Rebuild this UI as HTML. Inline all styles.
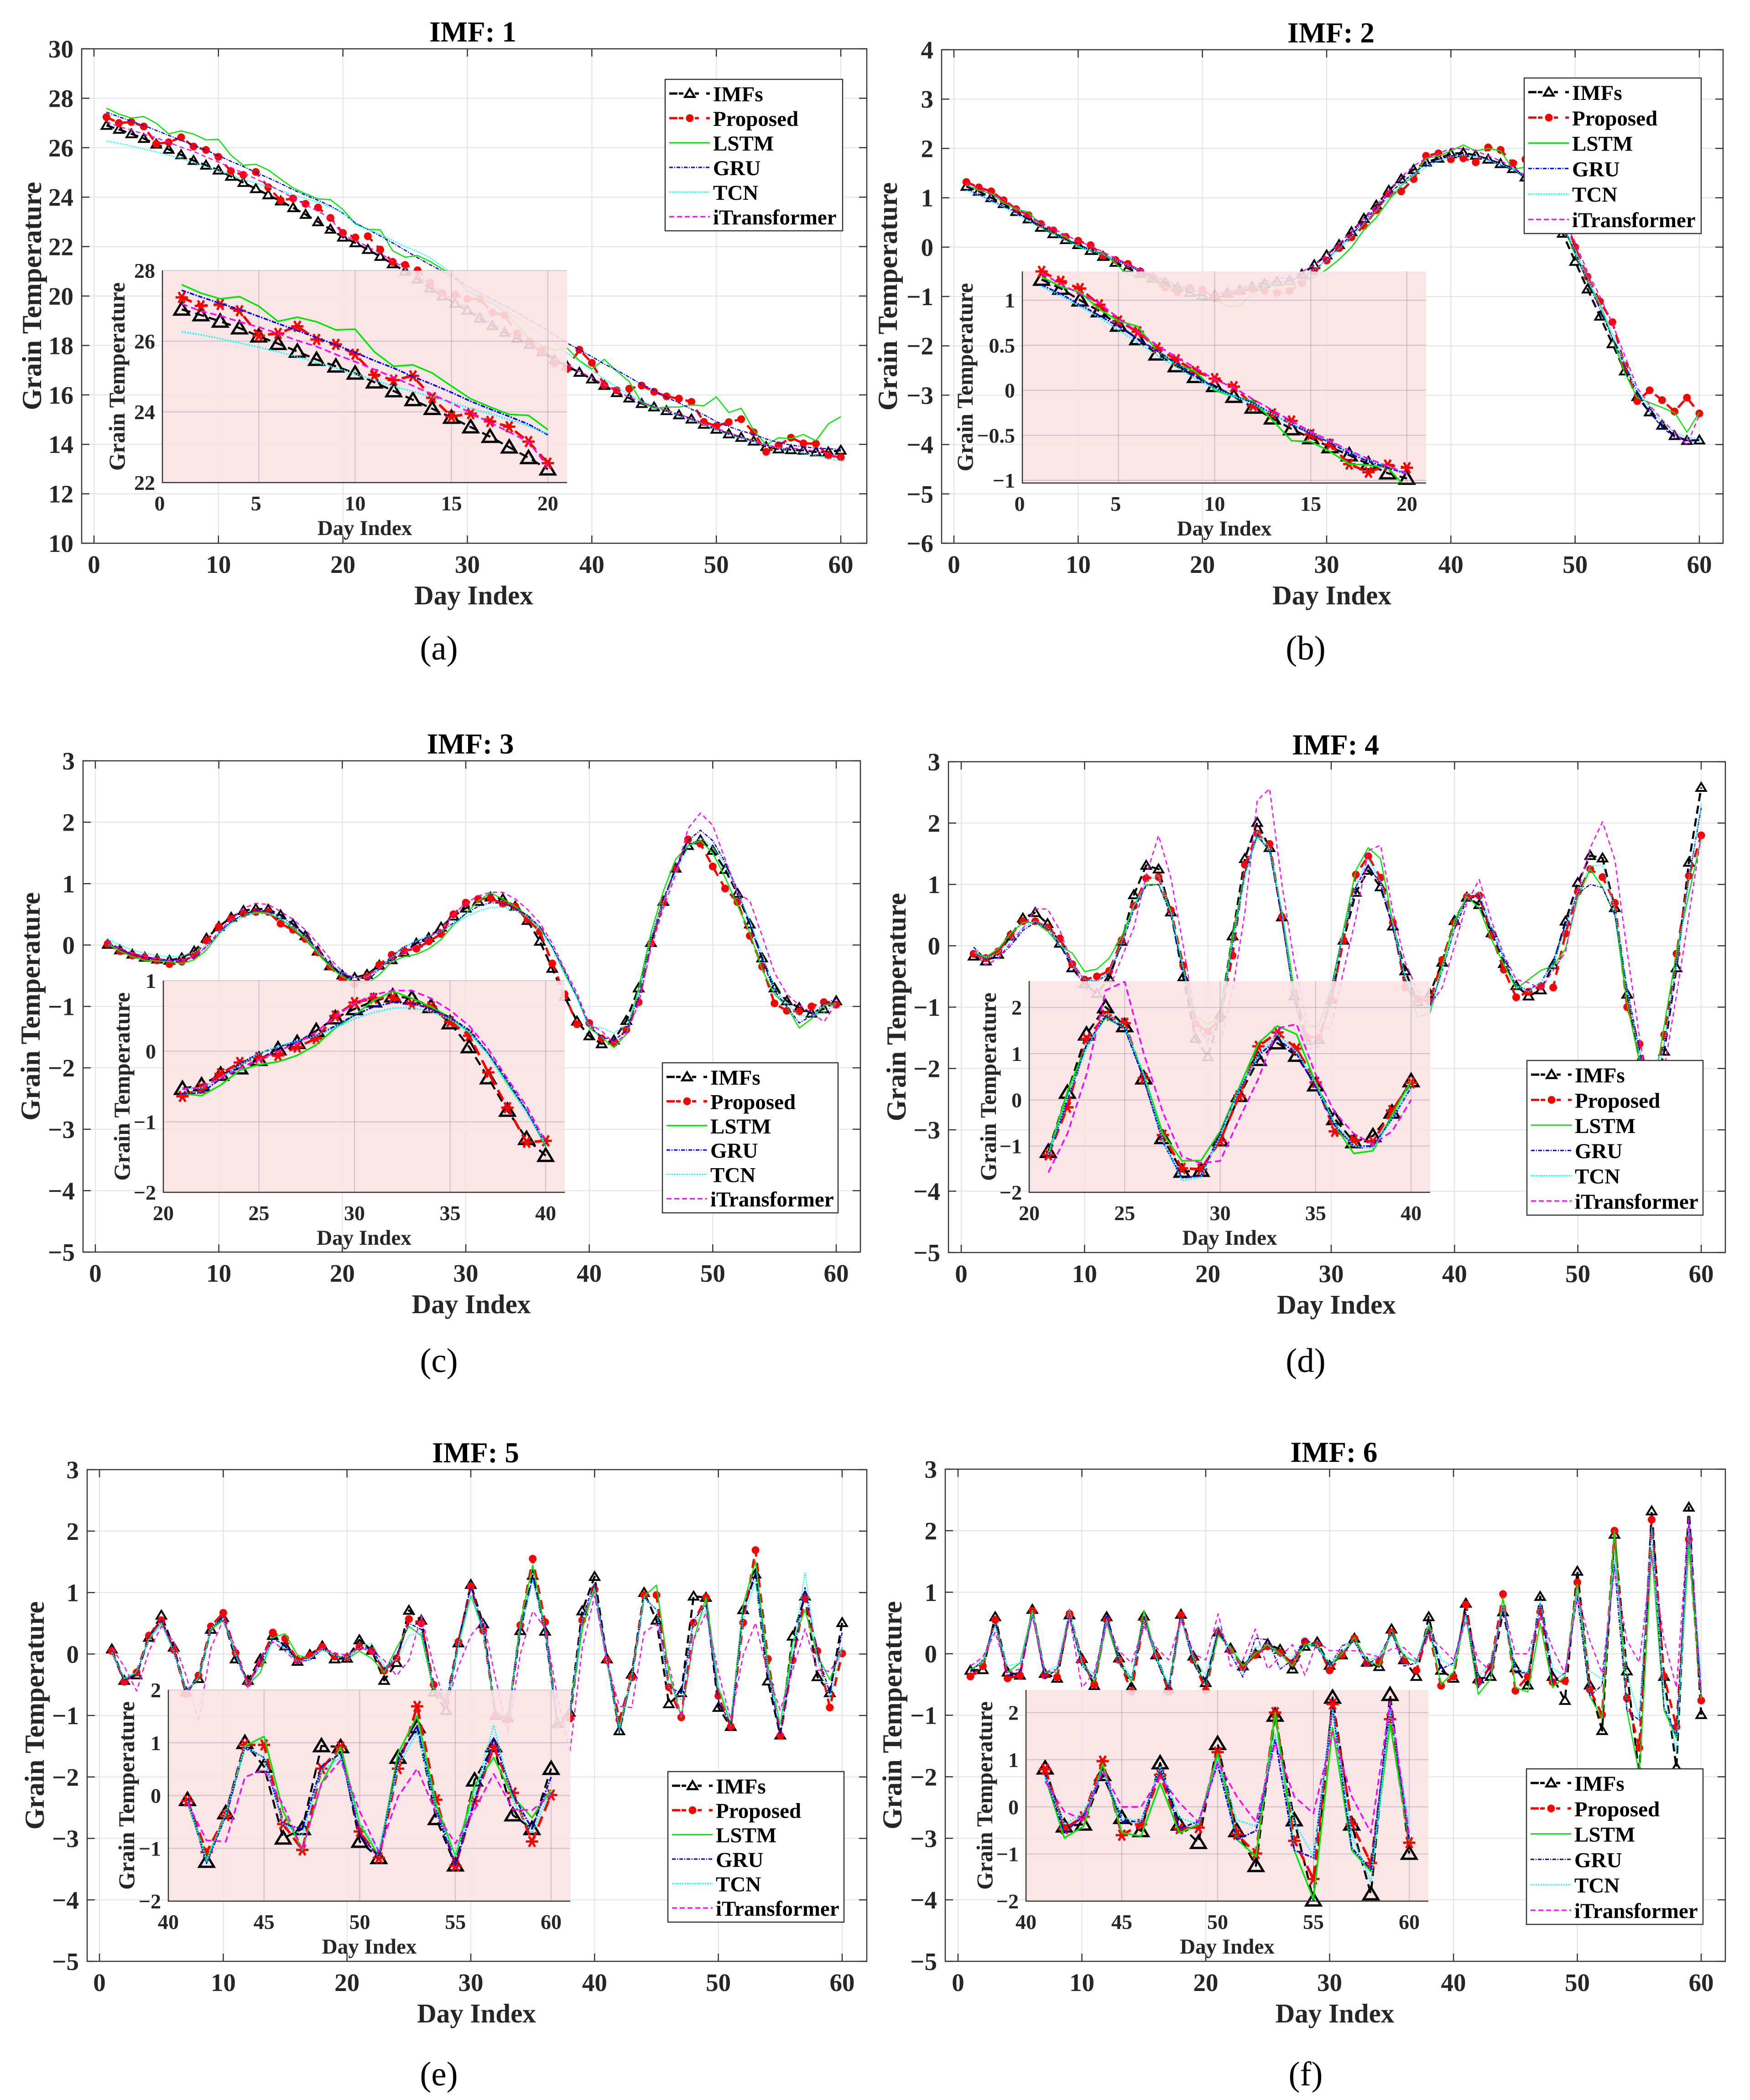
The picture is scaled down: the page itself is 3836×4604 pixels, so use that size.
<!DOCTYPE html>
<html lang="en">
<head>
<meta charset="utf-8">
<title>IMF forecast comparison</title>
<style>
html,body{margin:0;padding:0;background:#fff;}
svg{display:block;}
text{font-family:"Liberation Serif",serif;}
</style>
</head>
<body>
<svg id="figure" xmlns="http://www.w3.org/2000/svg" width="3836" height="4604" viewBox="0 0 3836 4604"></svg>
<script>
const days=[1,2,3,4,5,6,7,8,9,10,11,12,13,14,15,16,17,18,19,20,21,22,23,24,25,26,27,28,29,30,31,32,33,34,35,36,37,38,39,40,41,42,43,44,45,46,47,48,49,50,51,52,53,54,55,56,57,58,59,60];
const mainXTicks=[0,10,20,30,40,50,60];

const imf1Imfs=[26.90,26.74,26.56,26.37,26.14,25.93,25.71,25.48,25.29,25.09,24.84,24.59,24.34,24.09,23.84,23.57,23.30,23.00,22.70,22.38,22.15,21.88,21.6,21.3,21.0,20.68,20.32,20.0,19.7,19.42,19.1,18.8,18.53,18.28,18.04,17.75,17.42,17.17,16.91,16.64,16.38,16.09,15.87,15.65,15.51,15.36,15.19,15.02,14.81,14.61,14.42,14.28,14.13,13.91,13.81,13.78,13.76,13.69,13.69,13.76];
const imf1Proposed=[27.24,27.00,27.04,26.86,26.16,26.22,26.42,26.05,25.91,25.63,25.05,24.90,25.02,24.40,23.87,23.95,23.73,23.58,23.16,22.55,22.37,22.42,21.88,21.38,21.26,21.04,20.55,20.12,20.05,19.88,19.88,19.33,19.22,18.5,18.16,17.82,17.27,17.05,17.83,17.3,16.4,16.19,16.25,16.38,16.13,15.94,15.85,15.72,14.91,14.74,14.9,15.02,14.49,13.7,13.96,14.27,14.04,14.03,13.55,13.48];
const imf1Lstm=[27.6,27.36,27.2,27.26,26.99,26.56,26.68,26.55,26.32,26.34,25.7,25.29,25.33,25.1,24.73,24.37,24.14,23.93,23.9,23.5,22.93,22.7,22.68,21.83,21.57,21.64,21.4,21.09,20.8,20.2,19.95,19.7,19.35,18.84,18.24,17.99,17.82,17.9,17.39,17.05,17.44,16.96,16.54,15.68,15.46,15.51,15.51,15.6,15.56,15.92,15.29,15.46,14.57,13.98,14.27,14.23,14.4,14.15,14.83,15.12];
const imf1Gru=[27.44,27.25,27.07,26.9,26.7,26.5,26.3,26.1,25.9,25.68,25.45,25.24,25.0,24.78,24.55,24.3,24.08,23.87,23.65,23.35,22.95,22.7,22.43,22.15,21.85,21.55,21.27,21.0,20.7,20.4,20.12,19.87,19.6,19.33,19.03,18.75,18.43,18.1,17.83,17.55,17.25,17.0,16.72,16.42,16.2,15.9,15.68,15.42,15.2,14.92,14.72,14.55,14.4,14.22,14.07,13.97,13.9,13.85,13.82,13.8];
const imf1Tcn=[26.27,26.18,26.07,25.95,25.83,25.7,25.56,25.4,25.24,25.08,24.9,24.72,24.58,24.42,24.27,24.1,23.95,23.78,23.6,23.38,22.9,22.7,22.5,22.25,22.0,21.8,21.55,21.2,20.8,20.4,20.1,19.8,19.45,19.1,18.75,18.45,18.1,17.7,17.35,17.0,16.65,16.3,16.02,15.75,15.55,15.35,15.15,15.0,14.8,14.6,14.4,14.25,14.1,13.95,13.85,13.75,13.65,13.55,13.42,13.35];
const imf1Itrans=[27.06,26.85,26.72,26.55,26.4,26.22,26.02,25.85,25.63,25.42,25.2,24.98,24.74,24.5,24.25,23.97,23.7,23.43,23.15,22.45,22.25,22.0,21.72,21.42,21.12,20.8,20.45,20.12,19.82,19.52,19.2,18.88,18.6,18.32,18.08,17.8,17.5,17.22,16.95,16.7,16.42,16.15,15.92,15.7,15.52,15.38,15.22,15.05,14.85,14.65,14.48,14.3,14.15,13.98,13.88,13.85,13.8,13.72,13.62,13.45];

const imf2Imfs=[1.23,1.13,1.0,.88,.72,.57,.40,.27,.15,.05,-.07,-.19,-.31,-.43,-.53,-.63,-.72,-.82,-.92,-.98,-.97,-.93,-.87,-.8,-.74,-.7,-.68,-.55,-.36,-.16,.05,.31,.58,.85,1.15,1.38,1.57,1.72,1.8,1.89,1.91,1.86,1.78,1.69,1.59,1.42,1.2,.91,.28,-.29,-.85,-1.4,-1.96,-2.51,-3.03,-3.34,-3.61,-3.82,-3.92,-3.91];
const imf2Proposed=[1.32,1.21,1.13,.95,.77,.65,.47,.34,.21,.13,.04,-.17,-.26,-.34,-.49,-.6,-.82,-.91,-.83,-.86,-1.04,-.96,-.9,-.84,-.88,-.93,-.89,-.73,-.5,-.27,-.02,.2,.43,.75,1.08,1.13,1.38,1.85,1.9,1.78,1.8,1.72,2.02,1.97,1.7,1.78,1.5,1.2,.7,0,-.6,-1.1,-1.52,-2.4,-3.12,-2.9,-3.1,-3.33,-3.05,-3.37];
const imf2Lstm=[1.26,1.15,1.09,.90,.77,.71,.44,.29,.21,0,-.07,-.12,-.33,-.56,-.57,-.68,-.82,-.83,-.86,-1.09,-1.05,-1.2,-1.19,-.95,-.8,-.75,-.75,-.68,-.62,-.45,-.25,0,.35,.6,.95,1.25,1.45,1.8,1.85,1.95,2.07,1.95,2.0,1.95,1.58,1.62,1.35,1.0,.45,-.15,-.7,-1.15,-1.85,-2.55,-3.05,-3.15,-3.25,-3.35,-3.75,-3.35];
const imf2Gru=[1.17,1.07,.95,.83,.71,.57,.44,.3,.16,.03,-.06,-.14,-.26,-.38,-.48,-.58,-.7,-.79,-.86,-.93,-.97,-.92,-.87,-.82,-.76,-.72,-.68,-.6,-.47,-.25,0,.25,.52,.8,1.08,1.3,1.5,1.68,1.78,1.85,1.88,1.85,1.77,1.66,1.57,1.4,1.2,.85,.45,-.1,-.7,-1.25,-1.85,-2.4,-2.95,-3.35,-3.65,-3.85,-3.92,-3.9];
const imf2Tcn=[1.15,1.05,.93,.81,.67,.53,.39,.26,.13,.02,-.07,-.15,-.26,-.37,-.47,-.57,-.68,-.77,-.84,-.93,-.96,-.92,-.87,-.8,-.74,-.7,-.66,-.58,-.46,-.27,-.03,.22,.48,.74,1.0,1.25,1.45,1.62,1.75,1.83,1.86,1.84,1.76,1.68,1.58,1.42,1.22,.9,.45,-.05,-.6,-1.15,-1.75,-2.35,-2.9,-3.25,-3.55,-3.75,-3.85,-3.88];
const imf2Itrans=[1.3,1.18,1.07,.97,.8,.65,.5,.37,.25,.12,.03,-.1,-.22,-.34,-.46,-.56,-.67,-.76,-.84,-.92,-.96,-.9,-.84,-.76,-.7,-.65,-.6,-.5,-.36,-.16,.07,.32,.58,.85,1.12,1.42,1.65,1.8,1.9,2.0,2.0,1.95,1.85,1.75,1.62,1.45,1.25,1.0,.6,.1,-.5,-1.0,-1.55,-2.2,-2.85,-3.2,-3.5,-3.75,-4.0,-3.4];

const imf3Imfs=[.01,-.08,-.15,-.2,-.23,-.25,-.21,-.1,.11,.3,.45,.56,.59,.58,.49,.34,.15,-.1,-.34,-.49,-.53,-.48,-.33,-.24,-.12,.03,.12,.29,.47,.6,.71,.78,.75,.63,.4,.06,-.38,-.84,-1.24,-1.48,-1.61,-1.55,-1.23,-.7,.04,.71,1.25,1.62,1.71,1.54,1.23,.84,.34,-.21,-.7,-.91,-1.02,-1.11,-1.04,-.91];
const imf3Proposed=[.02,-.1,-.17,-.2,-.25,-.31,-.27,-.17,.07,.3,.43,.51,.54,.54,.35,.25,.1,-.12,-.35,-.55,-.64,-.52,-.32,-.16,-.09,-.06,.06,.18,.5,.69,.75,.76,.67,.63,.42,.22,-.3,-.8,-1.29,-1.27,-1.52,-1.6,-1.38,-.93,.03,.7,1.25,1.72,1.65,1.28,.92,.7,.15,-.35,-.95,-1.07,-1.08,-1.0,-.93,-.97];
const imf3Lstm=[.02,-.1,-.19,-.25,-.26,-.27,-.3,-.24,-.08,.18,.38,.5,.53,.52,.43,.27,.1,-.13,-.35,-.52,-.6,-.63,-.48,-.27,-.19,-.15,-.06,.09,.33,.51,.72,.85,.75,.63,.48,.27,-.03,-.45,-.84,-1.35,-1.5,-1.67,-1.45,-.7,.2,.88,1.4,1.62,1.7,1.5,1.1,.65,.2,-.4,-.8,-1.0,-1.35,-1.2,-.98,-.95];
const imf3Gru=[.04,-.07,-.15,-.2,-.23,-.25,-.25,-.2,-.03,.2,.38,.5,.57,.55,.47,.33,.17,-.07,-.3,-.47,-.6,-.59,-.39,-.18,-.03,.06,.14,.22,.36,.51,.63,.69,.68,.6,.48,.3,-.03,-.42,-.84,-1.32,-1.5,-1.55,-1.4,-.85,.1,.75,1.25,1.7,1.87,1.7,1.35,.9,.35,-.25,-.75,-1.0,-1.27,-1.15,-.95,-.88];
const imf3Tcn=[.1,0,-.08,-.13,-.17,-.19,-.18,-.12,0,.2,.35,.46,.52,.51,.43,.3,.13,-.1,-.3,-.45,-.53,-.52,-.38,-.2,-.03,.07,.15,.22,.33,.46,.55,.61,.62,.56,.45,.27,-.06,-.48,-.87,-1.32,-1.35,-1.43,-1.3,-.8,.1,.7,1.2,1.6,1.75,1.6,1.3,.85,.4,-.15,-.7,-.95,-1.15,-1.15,-1.1,-.95];
const imf3Itrans=[.05,-.05,-.13,-.18,-.22,-.25,-.25,-.18,-.02,.22,.42,.6,.68,.66,.55,.42,.25,.03,-.22,-.43,-.54,-.51,-.38,-.24,-.12,0,.12,.27,.5,.68,.8,.86,.86,.75,.58,.36,.03,-.39,-.78,-1.29,-1.4,-1.6,-1.45,-.95,-.05,.6,1.15,1.9,2.15,1.95,1.4,.85,.72,.15,-.45,-.8,-.98,-1.1,-1.25,-.95];

const imf4Imfs=[-.17,-.25,-.14,.16,.45,.54,.36,.04,-.36,-.62,-.78,-.53,.07,.83,1.31,1.25,.55,-.51,-1.51,-1.81,-1.12,.16,1.42,2.01,1.6,.47,-.82,-1.55,-1.53,-.87,.09,.87,1.23,.96,.32,-.41,-.91,-.78,-.27,.41,.79,.67,.21,-.29,-.65,-.82,-.72,-.31,.4,1.03,1.47,1.43,.62,-.79,-1.89,-2.6,-1.72,-.36,1.36,2.58];
const imf4Proposed=[-.13,-.2,-.09,.18,.4,.4,.3,.12,-.3,-.55,-.5,-.41,.09,.65,1.1,1.12,.58,-.32,-1.27,-1.4,-1.19,-.16,1.32,1.83,1.66,.47,-.76,-1.48,-1.5,-.88,.09,1.16,1.46,1.11,.38,-.68,-.87,-.91,-.23,.37,.8,.82,.17,-.39,-.84,-.75,-.66,-.68,.2,.88,1.25,1.12,.7,-1.0,-1.6,-2.4,-1.45,-.13,1.14,1.8];
const imf4Lstm=[-.1,-.18,-.05,.2,.38,.38,.24,0,-.12,-.42,-.38,-.2,.15,.65,1.0,1.0,.55,-.4,-1.15,-1.28,-1.17,.18,1.19,1.78,1.55,.55,-.73,-1.32,-1.31,-.68,.27,1.23,1.6,1.42,.37,-.55,-1.16,-1.1,-.32,.41,.8,.62,.1,-.3,-.7,-.55,-.4,-.33,-.05,.8,1.25,.95,.5,-.95,-1.9,-2.5,-1.3,-.1,.85,1.75];
const imf4Gru=[-.02,-.22,-.2,0,.25,.38,.3,0,-.3,-.55,-.58,-.45,0,.6,.98,1.0,.5,-.45,-1.3,-1.55,-1.21,0,1.19,1.81,1.55,.46,-.91,-1.69,-1.64,-.73,.23,.96,1.32,1,.27,-.55,-1,-1,-.41,.27,.75,.82,.25,-.2,-.65,-.72,-.6,-.25,.35,.85,1.0,.95,.5,-.7,-1.7,-2.6,-1.6,-.3,1.1,2.25];
const imf4Tcn=[-.1,-.2,-.12,.1,.3,.4,.3,.05,-.3,-.55,-.58,-.42,.05,.65,1.05,1.15,.55,-.35,-1.3,-1.58,-1.19,.05,1.1,1.87,1.6,.55,-.87,-1.75,-1.67,-.78,.23,1,1.42,1.05,.37,-.5,-1,-1.05,-.41,.32,.85,.87,.3,-.2,-.65,-.75,-.6,-.3,.3,.9,1.3,1.32,.6,-.75,-1.8,-2.6,-1.6,-.3,1.1,2.3];
const imf4Itrans=[-.1,-.32,-.2,.05,.28,.6,.6,.25,-.3,-.68,-.83,-.7,-.2,.3,1.15,1.8,1.1,0,-1.2,-1.6,-1.57,-.73,.55,2.37,2.56,1.0,-.27,-1.23,-1.37,-1.32,-.41,.46,1.55,1.64,.55,-.27,-.73,-.96,-.68,0,.7,1.08,.4,-.15,-.55,-.6,-.7,-.4,-.1,.9,1.6,2.02,1.4,-.1,-1.5,-2.7,-2.0,-.8,.5,1.8];

const imf5Imfs=[.08,-.43,-.34,.27,.63,.11,-.62,-.4,.4,.59,-.08,-.43,-.08,.3,.13,-.12,-.01,.13,-.08,-.07,.23,.06,-.43,-.14,.71,.55,-.62,-.92,.18,1.13,.49,-1.0,-1.04,.38,1.28,.37,-1.13,-.95,.7,1.26,-.08,-1.25,-.33,1.0,.55,-.81,-.63,.94,.92,-.87,-1.18,.72,1.3,-.44,-1.32,.29,.94,-.37,-.63,.51];
const imf5Proposed=[.05,-.45,-.3,.3,.55,.07,-.65,-.35,.45,.67,.02,-.47,-.15,.35,.25,-.1,-.02,.12,-.04,-.05,.12,.05,-.27,-.07,.57,.5,-.5,-.78,.2,1.1,.38,-1.0,-1.07,.47,1.55,.52,-1.15,-1.05,.55,1.05,-.1,-1.07,-.38,.96,.96,-.54,-1.03,.51,.92,-.68,-1.18,.51,1.69,-.08,-1.33,-.1,.92,.05,-.87,.01];
const imf5Lstm=[.03,-.4,-.3,.25,.5,.05,-.6,-.4,.4,.55,0,-.5,-.3,.27,.33,-.02,-.07,.07,-.02,-.08,.05,-.07,-.3,.1,.45,.3,-.6,-.85,.15,.95,.4,-1.0,-1.02,.5,1.45,.4,-1.2,-.95,.4,1.1,-.14,-1.2,-.38,.94,1.12,-.3,-1.03,.23,.92,-.54,-1.15,.8,1.51,-.18,-1.15,.19,.72,-.02,-.42,.11];
const imf5Gru=[.02,-.42,-.32,.27,.55,.05,-.62,-.38,.42,.6,-.02,-.5,-.15,.25,.15,-.12,-.1,.08,-.02,-.08,.12,.08,-.25,-.02,.5,.4,-.55,-.8,.2,1.1,.4,-1.0,-1.0,.42,1.25,.4,-1.15,-.95,.6,1.15,-.06,-1.28,-.38,.92,.72,-.54,-.63,.55,.8,-.75,-1.15,.67,1.33,-.3,-1.32,-.1,1.08,.02,-.63,.35];
const imf5Tcn=[.02,-.4,-.3,.25,.5,.05,-.6,-.38,.42,.58,-.02,-.52,-.2,.2,.1,-.12,-.08,.08,-.02,-.05,.1,.18,-.2,-.1,.3,.35,-.55,-.85,.15,.95,.35,-.95,-1.0,.4,1.2,.4,-1.1,-.9,.55,1.05,-.1,-1.24,-.34,.92,.72,-.54,-.75,.47,.72,-.54,-1.03,.55,1.2,-.3,-1.15,.02,1.33,-.1,-.71,.11];
const imf5Itrans=[.1,-.2,-.6,.05,.45,.2,-.35,-1.1,.1,.55,.1,-.55,-.05,.2,.05,-.15,-.05,.1,.02,-.02,.1,.05,-.1,-.35,-.1,.62,-.2,-.85,-.2,.3,.55,-.4,-1.3,0,.7,.42,-.7,-1.6,.1,.95,-.14,-.85,-.87,.35,.49,-.18,-1.03,.23,.67,-.3,-1.07,-.02,.51,-.34,-.91,-.26,.41,-.26,-.28,.02];

const imf6Imfs=[-.27,-.26,.6,-.3,-.35,.72,-.32,-.4,.63,-.08,-.52,.6,-.07,-.54,.61,-.02,-.57,.64,-.04,-.47,.35,.09,-.2,0,.16,.07,-.25,.12,.19,-.19,-.02,.25,-.14,-.21,.4,-.1,-.37,.6,-.27,-.4,.82,-.41,-.37,.68,-.23,-.51,.93,-.37,-.76,1.34,-.51,-1.25,1.94,-.28,-1.98,2.32,-.37,-1.85,2.38,-.99];
const imf6Proposed=[-.37,-.2,.55,-.4,-.35,.7,-.35,-.38,.65,-.1,-.5,.55,-.1,-.62,.55,-.03,-.62,.63,-.1,-.6,.35,.05,-.22,-.02,.12,.02,-.15,.2,.15,-.27,-.02,.25,-.15,-.13,.35,-.1,-.27,.37,-.52,-.37,.8,-.46,-.21,.97,-.6,-.37,.68,-.46,-.44,1.16,-.58,-.99,2,-.72,-1.53,2.18,-.37,-1.19,1.86,-.76];
const imf6Lstm=[-.25,-.15,.5,-.3,-.15,.7,-.3,-.3,.6,-.15,-.45,.5,-.15,-.45,.7,-.05,-.55,.6,-.1,-.5,.3,.1,-.2,0,.15,0,-.2,.15,.15,-.2,0,.27,-.1,-.2,.38,-.05,-.13,.45,-.5,-.3,.63,-.66,-.41,.91,-.55,-.62,.5,-.55,-.37,1.13,-.69,-1.05,2,-.92,-1.96,1.68,-.92,-1.37,1.77,-.73];
const imf6Gru=[-.3,-.1,.5,-.35,-.3,.65,-.4,-.25,.6,-.2,-.4,.65,-.15,-.4,.6,-.1,-.55,.6,-.15,-.5,.4,0,-.38,.25,.23,-.25,-.1,.25,.1,-.2,.13,.2,-.18,-.05,.35,-.2,-.15,.4,-.25,-.15,.68,-.55,-.19,.77,-.31,-.31,.82,-.46,-.31,.91,-.69,-.51,1.45,-.92,-1.08,2.09,-.87,-1.33,2.14,-.69];
const imf6Tcn=[-.2,-.1,.45,-.2,-.15,.65,-.3,-.2,.72,-.15,-.35,.55,-.05,-.4,.55,-.05,-.5,.55,-.05,-.35,.45,.05,-.3,.1,.15,-.05,-.05,.12,.12,-.15,.05,.2,-.1,-.05,.3,0,-.15,.5,-.1,-.2,.63,-.37,-.14,.77,-.23,-.31,.86,-.23,-.37,1.04,-.28,-.41,1.54,-.32,-1.05,2.05,-.6,-1.6,2.05,-.37];
const imf6Itrans=[-.2,-.05,.35,-.3,-.25,.6,-.3,-.25,.6,-.55,-.3,.5,.05,-.15,.45,.1,-.1,.55,0,-.1,.65,-.2,-.1,.4,-.25,-.05,.15,-.35,.2,.05,.05,.05,0,-.05,.08,.1,-.1,.3,.1,-.1,.54,-.1,-.28,.77,0,0,.63,.09,-.32,.95,.22,-.32,1.36,.22,-.14,1.59,.22,-.55,2.23,-.6];

const seriesNames=['IMFs','Proposed','LSTM','GRU','TCN','iTransformer'];
const seriesKeys=['imfs','proposed','lstm','gru','tcn','itransformer'];
const seriesColors=['#000000','#ff0000','#00e600','#0000ff','#00ffff','#ff00ff'];
const mainWidths=[4.5,5,2.5,2.5,2.5,2.5];
const insetWidths=[4.5,5.5,3.5,3.5,3.5,3.5];
const mainDashes=['18 10','20 14','','8 3 2 3','2.5 2.5','10 7'];
const insetDashes=['20 11','24 13','','10 3 3 3','3 3','14 8'];
const legendDashes=['18 3 10 25 9 16 9','18 3 10 25 9 16 9','','8 3 2 3','3 2.5','11 6'];

const panelDefs=[
 {n:'1',cap:'(a)',capX:962,capY:1446,data:[imf1Imfs,imf1Proposed,imf1Lstm,imf1Gru,imf1Tcn,imf1Itrans],
  box:[179,107,1900,1191],xPx:[206,1843],yLim:[10,30],yTicks:[10,12,14,16,18,20,22,24,26,28,30],ylabX:90,
  inset:{box:[356,593,1243,1058],x:[0,21],y:[22,28],xTicks:[0,5,10,15,20],yTicks:[22,24,26,28],range:[1,20],ylabX:273},
  legend:[1458,174,1847,506]},
 {n:'2',cap:'(b)',capX:2862,capY:1446,data:[imf2Imfs,imf2Proposed,imf2Lstm,imf2Gru,imf2Tcn,imf2Itrans],
  box:[2064,109,3777,1191],xPx:[2091,3725],yLim:[-6,4],yTicks:[-6,-5,-4,-3,-2,-1,0,1,2,3,4],ylabX:1966,
  inset:{box:[2241,595,3126,1059],x:[0,21],y:[-1.03,1.32],xTicks:[0,5,10,15,20],yTicks:[-1,-0.5,0,0.5,1],range:[1,20],ylabX:2132},
  legend:[3341,171,3729,512]},
 {n:'3',cap:'(c)',capX:962,capY:3008,data:[imf3Imfs,imf3Proposed,imf3Lstm,imf3Gru,imf3Tcn,imf3Itrans],
  box:[182,1668,1886,2745],xPx:[209,1833],yLim:[-5,3],yTicks:[-5,-4,-3,-2,-1,0,1,2,3],ylabX:87,
  inset:{box:[358,2150,1238,2614],x:[20,41],y:[-2,1],xTicks:[20,25,30,35,40],yTicks:[-2,-1,0,1],range:[21,40],ylabX:284},
  legend:[1452,2330,1837,2659]},
 {n:'4',cap:'(d)',capX:2862,capY:3008,data:[imf4Imfs,imf4Proposed,imf4Lstm,imf4Gru,imf4Tcn,imf4Itrans],
  box:[2079,1670,3782,2746],xPx:[2107,3729],yLim:[-5,3],yTicks:[-5,-4,-3,-2,-1,0,1,2,3],ylabX:1985,
  inset:{box:[2256,2151,3135,2614],x:[20,41],y:[-2,2.57],xTicks:[20,25,30,35,40],yTicks:[-2,-1,0,1,2],range:[21,40],ylabX:2183},
  legend:[3347,2325,3733,2664]},
 {n:'5',cap:'(e)',capX:962,capY:4572,data:[imf5Imfs,imf5Proposed,imf5Lstm,imf5Gru,imf5Tcn,imf5Itrans],
  box:[191,3222,1900,4300],xPx:[218,1846],yLim:[-5,3],yTicks:[-5,-4,-3,-2,-1,0,1,2,3],ylabX:96,
  inset:{box:[369,3705,1250,4168],x:[40,61],y:[-2,2],xTicks:[40,45,50,55,60],yTicks:[-2,-1,0,1,2],range:[41,60],ylabX:294},
  legend:[1464,3884,1850,4214]},
 {n:'6',cap:'(f)',capX:2862,capY:4572,data:[imf6Imfs,imf6Proposed,imf6Lstm,imf6Gru,imf6Tcn,imf6Itrans],
  box:[2072,3221,3782,4300],xPx:[2100,3729],yLim:[-5,3],yTicks:[-5,-4,-3,-2,-1,0,1,2,3],ylabX:1976,
  inset:{box:[2249,3705,3131,4168],x:[40,61],y:[-2,2.48],xTicks:[40,45,50,55,60],yTicks:[-2,-1,0,1,2],range:[41,60],ylabX:2175},
  legend:[3346,3878,3733,4219]}
];

const NS='http://www.w3.org/2000/svg';
const root=document.getElementById('figure');
function mk(tag,attrs,parent){
  const e=document.createElementNS(NS,tag);
  for(const k in attrs){e.setAttribute(k,attrs[k]);}
  parent.appendChild(e);
  return e;
}
function fmt(v){return (v<0?'\u2212':'')+Math.abs(v);}
function linear(d0,d1,r0,r1){return function(v){return r0+(v-d0)*(r1-r0)/(d1-d0);};}
function txt(parent,x,y,s,size,weight,anchor,fill,extra){
  const a={x:x,y:y,'font-size':size,'font-weight':weight,'text-anchor':anchor,fill:fill};
  if(extra){for(const k in extra){a[k]=extra[k];}}
  const t=mk('text',a,parent);
  t.textContent=s;
  return t;
}
function triPath(x,y,r){return 'M'+x+' '+(y-r*0.95)+'L'+(x+r)+' '+(y+r*0.72)+'L'+(x-r)+' '+(y+r*0.72)+'Z';}
function starPath(x,y,r){
  let d='M'+(x-r)+' '+y+'L'+(x+r)+' '+y;
  const a=r*0.5,b=r*0.866;
  d+='M'+(x-a)+' '+(y-b)+'L'+(x+a)+' '+(y+b);
  d+='M'+(x+a)+' '+(y-b)+'L'+(x-a)+' '+(y+b);
  return d;
}

function drawSeries(parent,values,s,xf,yf,start,end,isInset,clipId){
  const key=seriesKeys[s];
  const g=mk('g',{},parent);
  
  
  const pts=[];
  for(let i=0;i<days.length;i++){
    if(days[i]>=start&&days[i]<=end){pts.push([xf(days[i]),yf(values[i])]);}
  }
  const dash=isInset?insetDashes[s]:mainDashes[s];
  const attrs={d:'M'+pts.map(function(p){return p[0].toFixed(1)+' '+p[1].toFixed(1);}).join('L'),fill:'none',stroke:seriesColors[s],'stroke-width':isInset?insetWidths[s]:mainWidths[s],'clip-path':'url(#'+clipId+')','stroke-linejoin':'round'};
  if(dash){attrs['stroke-dasharray']=dash;}
  const line=mk('path',attrs,g);
  
  
  if(s===0){
    pts.forEach(function(p){
      const m=mk('path',{d:triPath(p[0],p[1],isInset?16:10.5),fill:'none',stroke:'#000','stroke-width':isInset?5:4,'stroke-linejoin':'miter'},g);
      
      
    });
  }
  if(s===1){
    pts.forEach(function(p){
      if(isInset){
        const m=mk('path',{d:starPath(p[0],p[1],13.5),fill:'none',stroke:'#ff0000','stroke-width':5},g);
        
        
      }else{
        const m=mk('circle',{cx:p[0],cy:p[1],r:8.5,fill:'#ff0000'},g);
        
        
      }
    });
  }
}

function drawLegend(parent,b){
  const g=mk('g',{},parent);
  
  
  const r=mk('rect',{x:b[0],y:b[1],width:b[2]-b[0],height:b[3]-b[1],fill:'#fff',stroke:'#333','stroke-width':2.5},g);
  
  
  const step=(b[3]-b[1]-62)/5;
  for(let s=0;s<6;s++){
    const y=b[1]+31+s*step;
    const a={x1:b[0]+9,x2:b[0]+98,y1:y,y2:y,stroke:seriesColors[s],'stroke-width':s<2?5:3};
    if(legendDashes[s]){a['stroke-dasharray']=legendDashes[s];}
    const l=mk('line',a,g);
    
    
    if(s===0){
      const m=mk('path',{d:triPath(b[0]+54,y,10.5),fill:'#fff',stroke:'#000','stroke-width':4.5},g);
      
      
    }
    if(s===1){
      const m=mk('circle',{cx:b[0]+54,cy:y,r:8.5,fill:'#ff0000'},g);
      
      
    }
    const t=txt(g,b[0]+105,y+17,seriesNames[s],47,'bold','start','#000');
    
    
  }
}

panelDefs.forEach(function(p,pi){
  const g=mk('g',{},root);
  
  
  const L=p.box[0],T=p.box[1],R=p.box[2],B=p.box[3];
  const xf=linear(0,60,p.xPx[0],p.xPx[1]);
  const yf=linear(p.yLim[0],p.yLim[1],B,T);
  const clipMain='clip-main-'+pi;
  const defs=mk('defs',{},g);
  const cm=mk('clipPath',{id:clipMain},defs);
  mk('rect',{x:L,y:T,width:R-L,height:B-T},cm);

  const grid=mk('g',{},g);
  
  
  mainXTicks.forEach(function(v){
    const l=mk('line',{x1:xf(v),x2:xf(v),y1:T,y2:B,stroke:'#e2e2e2','stroke-width':2},grid);
    
    
  });
  p.yTicks.forEach(function(v){
    const l=mk('line',{x1:L,x2:R,y1:yf(v),y2:yf(v),stroke:'#e2e2e2','stroke-width':2},grid);
    
    
  });

  const series=mk('g',{},g);
  
  
  p.data.forEach(function(vals,s){drawSeries(series,vals,s,xf,yf,1,60,false,clipMain);});

  const frame=mk('rect',{x:L,y:T,width:R-L,height:B-T,fill:'none',stroke:'#333','stroke-width':2.5},g);
  
  

  const xAxis=mk('g',{},g);
  
  
  mainXTicks.forEach(function(v){
    const d=mk('path',{d:'M'+xf(v)+' '+B+'v-17M'+xf(v)+' '+T+'v17',stroke:'#333','stroke-width':2.5,fill:'none'},xAxis);
    
    
    const t=txt(xAxis,xf(v),B+65,fmt(v),55,'bold','middle','#262626');
    
    
  });
  const yAxis=mk('g',{},g);
  
  
  p.yTicks.forEach(function(v){
    const d=mk('path',{d:'M'+L+' '+yf(v)+'h17M'+R+' '+yf(v)+'h-17',stroke:'#333','stroke-width':2.5,fill:'none'},yAxis);
    
    
    const t=txt(yAxis,L-18,yf(v)+19,fmt(v),55,'bold','end','#262626');
    
    
  });

  const title=txt(g,(L+R)/2-3,T-16,'IMF: '+p.n,63,'bold','middle','#000');
  
  
  const xl=txt(g,(L+R)/2-1,B+134,'Day Index',59,'bold','middle','#262626');
  
  
  const yc=(T+B)/2;
  const yl=txt(g,p.ylabX,yc,'Grain Temperature',60,'bold','middle','#262626',{transform:'rotate(-90 '+p.ylabX+' '+yc+')'});
  
  

  const ins=p.inset;
  const ig=mk('g',{},g);
  
  
  const iL=ins.box[0],iT=ins.box[1],iR=ins.box[2],iB=ins.box[3];
  const bg=mk('rect',{x:iL,y:iT,width:iR-iL,height:iB-iT,fill:'rgb(250,226,228)','fill-opacity':0.9},ig);
  
  
  const ixf=linear(ins.x[0],ins.x[1],iL,iR);
  const iyf=linear(ins.y[0],ins.y[1],iB,iT);
  const clipInset='clip-inset-'+pi;
  const ci=mk('clipPath',{id:clipInset},defs);
  mk('rect',{x:iL,y:iT,width:iR-iL,height:iB-iT},ci);
  ins.xTicks.forEach(function(v){
    const l=mk('line',{x1:ixf(v),x2:ixf(v),y1:iT,y2:iB,stroke:'#000','stroke-opacity':0.16,'stroke-width':2},ig);
    
    
    const dx=(v<10)?-6:0;
    const t=txt(ig,ixf(v)+dx,iB+61,fmt(v),46,'bold','middle','#262626');
    
    
  });
  ins.yTicks.forEach(function(v){
    const l=mk('line',{x1:iL,x2:iR,y1:iyf(v),y2:iyf(v),stroke:'#000','stroke-opacity':0.16,'stroke-width':2},ig);
    
    
    const t=txt(ig,iL-16,iyf(v)+16,fmt(v),46,'bold','end','#262626');
    
    
  });
  p.data.forEach(function(vals,s){drawSeries(ig,vals,s,ixf,iyf,ins.range[0],ins.range[1],true,clipInset);});
  const ax=mk('path',{d:'M'+iL+' '+iT+'V'+iB+'H'+iR,fill:'none',stroke:'#333','stroke-width':2.5},ig);
  
  
  const ixl=txt(ig,(iL+iR)/2,iB+115,'Day Index',47,'bold','middle','#262626');
  
  
  const iyc=(iT+iB)/2;
  const iyl=txt(ig,ins.ylabX,iyc,'Grain Temperature',49.5,'bold','middle','#262626',{transform:'rotate(-90 '+ins.ylabX+' '+iyc+')'});
  
  

  drawLegend(g,p.legend);

  const cap=txt(g,p.capX,p.capY,p.cap,75,'normal','middle','#000');
  
  
});
</script>
</body>
</html>
